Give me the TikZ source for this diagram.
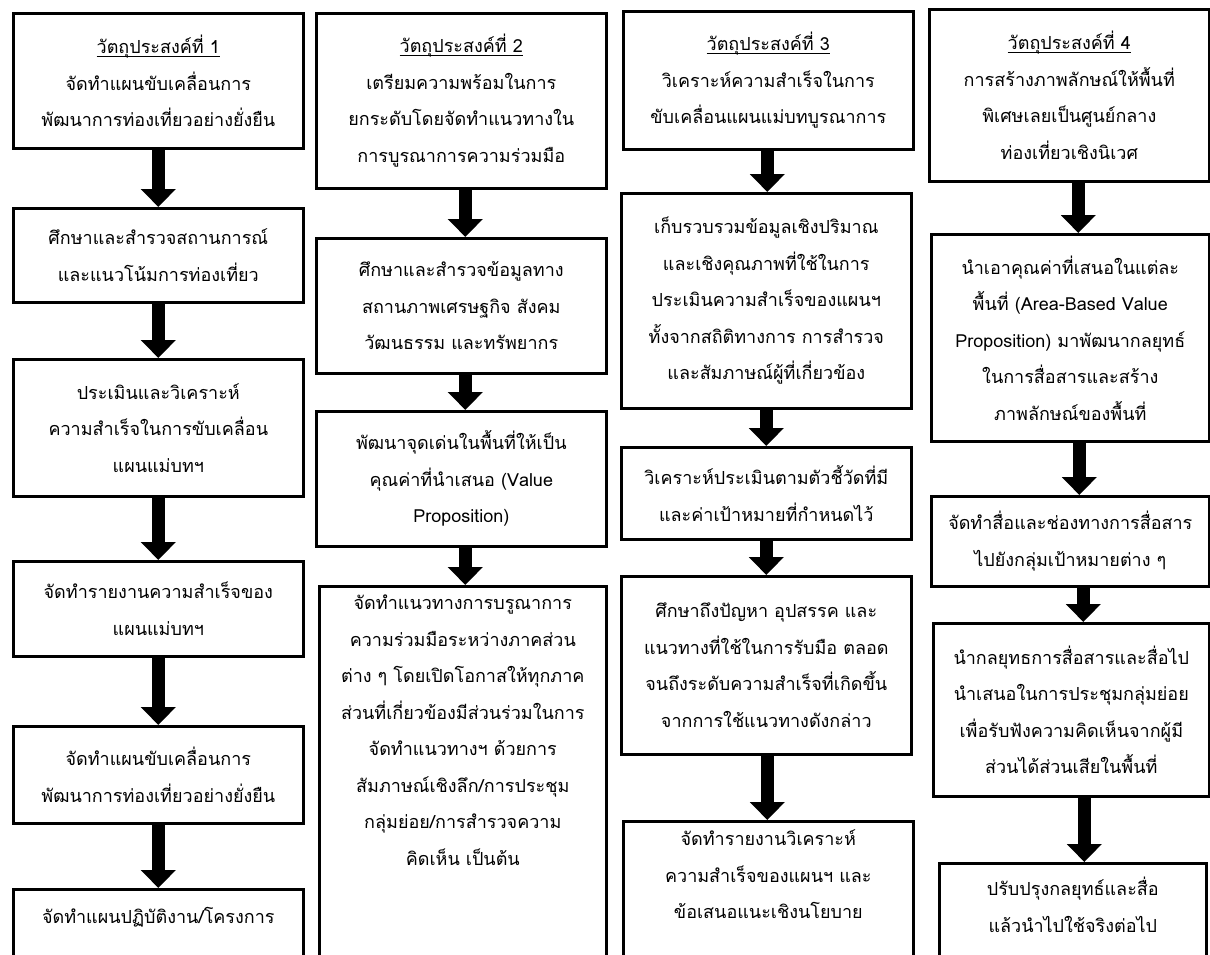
\documentclass[tikz,border=0pt]{standalone}
\usepackage{fontspec}
\newfontfamily\thaifont[Script=Thai]{Loma}
\usetikzlibrary{arrows.meta,calc}
\newcommand\ulin[1]{\setbox0\hbox{#1}\rlap{\rule[-3.5pt]{\wd0}{1.1pt}}\box0}
\newcommand\mybox[5]{\node[box, minimum width={#4-#2}, minimum height={#5-#3}] (#1) at (#2,#3) {};}
\tikzset{
  box/.style={draw, line width=2.6pt, anchor=north west, inner sep=0pt, rectangle},
  txt/.style={align=center, font=\thaifont\fontsize{18}{36.5}\selectfont, inner sep=0pt},
  bigarrow/.style={line width=13pt, -{Triangle[width=34pt,length=18pt]}},
}
\begin{document}
\begin{tikzpicture}[x=1pt,y=-1pt]
\useasboundingbox (0,0) rectangle (1210,955);
\clip (0,0) rectangle (1210,955);
\fill[white] (0,0) rectangle (1210,955);
% column 1
\mybox{a1}{12}{12}{302}{147}
\mybox{a2}{12}{207}{302}{301}
\mybox{a3}{12}{358}{302}{495}
\mybox{a4}{12}{560}{302}{655}
\mybox{a5}{12}{725}{302}{822}
\mybox{a6}{12}{888}{302}{1010}
% column 2
\mybox{b1}{315}{12}{605}{187}
\mybox{b2}{315}{237}{605}{372}
\mybox{b3}{315}{410}{605}{545}
\mybox{b4}{318}{585}{605}{1010}
% column 3
\mybox{c1}{622}{10}{912}{148}
\mybox{c2}{620}{192}{910}{407}
\mybox{c3}{620}{446}{910}{538}
\mybox{c4}{620}{575}{910}{753}
\mybox{c5}{622}{820}{912}{1010}
% column 4
\mybox{d1}{928}{8}{1208}{180}
\mybox{d2}{930}{233}{1208}{440}
\mybox{d3}{930}{495}{1208}{585}
\mybox{d4}{932}{622}{1208}{795}
\mybox{d5}{938}{862}{1205}{1010}

% texts column 1
\node[txt] (a1t) at (a1) {\ulin{วัตถุประสงค์ที่ 1}\\จัดทำแผนขับเคลื่อนการ\\พัฒนาการท่องเที่ยวอย่างยั่งยืน};
\node[txt] (a2t) at (a2) {ศึกษาและสำรวจสถานการณ์\\และแนวโน้มการท่องเที่ยว};
\node[txt] (a3t) at (a3) {ประเมินและวิเคราะห์\\ความสำเร็จในการขับเคลื่อน\\แผนแม่บทฯ};
\node[txt] (a4t) at (a4) {จัดทำรายงานความสำเร็จของ\\แผนแม่บทฯ};
\node[txt] (a5t) at (a5) {จัดทำแผนขับเคลื่อนการ\\พัฒนาการท่องเที่ยวอย่างยั่งยืน};
\node[txt, anchor=north] (a6t) at ([yshift=-19pt]a6.north) {จัดทำแผนปฏิบัติงาน/โครงการ};
% texts column 2
\node[txt] (b1t) at (b1) {\ulin{วัตถุประสงค์ที่ 2}\\เตรียมความพร้อมในการ\\ยกระดับโดยจัดทำแนวทางใน\\การบูรณาการความร่วมมือ};
\node[txt] (b2t) at (b2) {ศึกษาและสำรวจข้อมูลทาง\\สถานภาพเศรษฐกิจ สังคม\\วัฒนธรรม และทรัพยากร};
\node[txt] (b3t) at (b3) {พัฒนาจุดเด่นในพื้นที่ให้เป็น\\คุณค่าที่นำเสนอ (Value\\Proposition)};
\node[txt, anchor=north] (b4t) at ([yshift=-10pt]b4.north) {จัดทำแนวทางการบรูณาการ\\ความร่วมมือระหว่างภาคส่วน\\ต่าง ๆ โดยเปิดโอกาสให้ทุกภาค\\ส่วนที่เกี่ยวข้องมีส่วนร่วมในการ\\จัดทำแนวทางฯ ด้วยการ\\สัมภาษณ์เชิงลึก/การประชุม\\กลุ่มย่อย/การสำรวจความ\\คิดเห็น เป็นต้น};
% texts column 3
\node[txt] (c1t) at (c1) {\ulin{วัตถุประสงค์ที่ 3}\\วิเคราะห์ความสำเร็จในการ\\ขับเคลื่อนแผนแม่บทบูรณาการ};
\node[txt] (c2t) at (c2) {เก็บรวบรวมข้อมูลเชิงปริมาณ\\และเชิงคุณภาพที่ใช้ในการ\\ประเมินความสำเร็จของแผนฯ\\ทั้งจากสถิติทางการ การสำรวจ\\และสัมภาษณ์ผู้ที่เกี่ยวข้อง};
\node[txt] (c3t) at (c3) {วิเคราะห์ประเมินตามตัวชี้วัดที่มี\\และค่าเป้าหมายที่กำหนดไว้};
\node[txt] (c4t) at (c4) {ศึกษาถึงปัญหา อุปสรรค และ\\แนวทางที่ใช้ในการรับมือ ตลอด\\จนถึงระดับความสำเร็จที่เกิดขึ้น\\จากการใช้แนวทางดังกล่าว};
\node[txt, anchor=north] (c5t) at ([yshift=-10pt]c5.north) {จัดทำรายงานวิเคราะห์\\ความสำเร็จของแผนฯ และ\\ข้อเสนอแนะเชิงนโยบาย};
% texts column 4
\node[txt] (d1t) at (d1) {\ulin{วัตถุประสงค์ที่ 4}\\การสร้างภาพลักษณ์ให้พื้นที่\\พิเศษเลยเป็นศูนย์กลาง\\ท่องเที่ยวเชิงนิเวศ};
\node[txt] (d2t) at (d2) {นำเอาคุณค่าที่เสนอในแต่ละ\\พื้นที่ (Area-Based Value\\Proposition) มาพัฒนากลยุทธ์\\ในการสื่อสารและสร้าง\\ภาพลักษณ์ของพื้นที่};
\node[txt] (d3t) at (d3) {จัดทำสื่อและช่องทางการสื่อสาร\\ไปยังกลุ่มเป้าหมายต่าง ๆ};
\node[txt] (d4t) at (d4) {นำกลยุทธการสื่อสารและสื่อไป\\นำเสนอในการประชุมกลุ่มย่อย\\เพื่อรับฟังความคิดเห็นจากผู้มี\\ส่วนได้ส่วนเสียในพื้นที่};
\node[txt, anchor=north] (d5t) at ([yshift=-15pt]d5.north) {ปรับปรุงกลยุทธ์และสื่อ\\แล้วนำไปใช้จริงต่อไป};

% arrows (vertical, from each box's bottom to the next box's top)
\foreach \p/\q/\s in {a1/a2/0,a2/a3/0,a3/a4/0,a4/a5/0,a5/a6/0,
    b1/b2/4,b2/b3/4,b3/b4/4,
    c1/c2/-1,c2/c3/0,c3/c4/0,c4/c5/1,
    d1/d2/9,d2/d3/9,d3/d4/13,d4/d5/13}
  \draw[bigarrow] ([xshift=\s pt]\p.south) -- ([xshift=\s pt]\p.south |- \q.north);
\end{tikzpicture}
\end{document}
